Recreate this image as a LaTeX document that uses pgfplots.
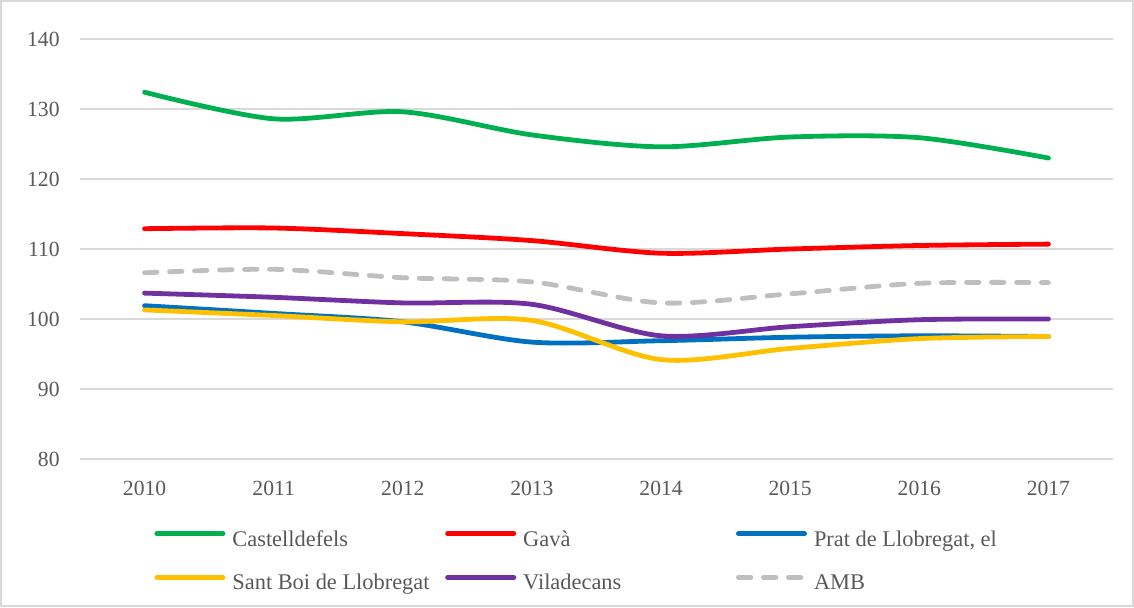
\documentclass[border=0pt]{standalone}
\usepackage{fontspec}
\setmainfont{Liberation Serif}
\usepackage{pgfplots}
\pgfplotsset{compat=1.18}
\definecolor{TxtColor}{HTML}{595959}
\definecolor{GridColor}{HTML}{D9D9D9}
\definecolor{cGreen}{HTML}{00B050}
\definecolor{cRed}{HTML}{FF0000}
\definecolor{cBlue}{HTML}{0070C0}
\definecolor{cYellow}{HTML}{FFC000}
\definecolor{cPurple}{HTML}{7030A0}
\definecolor{cGray}{HTML}{BFBFBF}

\begin{document}
\fontsize{10.5pt}{12pt}\selectfont
\begin{tikzpicture}
\useasboundingbox (-40pt,-74pt) rectangle (527pt,229.5pt);
\draw[GridColor,line width=0.75pt] (-39.6pt,-73.6pt) rectangle (526.6pt,229.1pt);
\begin{axis}[
  name=ax,
  at={(0,0)}, anchor=south west,
  scale only axis,
  width=516.5pt, height=210pt,
  xmin=-0.5, xmax=7.5,
  ymin=80, ymax=140,
  xtick={0,...,7},
  xticklabels={2010,2011,2012,2013,2014,2015,2016,2017},
  ytick={80,90,...,140},
  axis line style={draw=none},
  major tick length=0pt,
  ymajorgrids,
  grid style={draw=GridColor,line width=0.75pt},
  tick label style={font=\fontsize{10.8pt}{12pt}\selectfont,text=TxtColor},
  /pgf/number format/assume math mode=true,
  /pgf/number format/1000 sep={},
  yticklabel style={anchor=east,inner sep=0pt,xshift=-10pt},
  xticklabel style={anchor=north,inner sep=0pt,yshift=-11pt},
  every axis plot/.append style={line width=2.4pt,line cap=round,line join=round,smooth},
  legend columns=3,
  legend cell align=left,
  legend style={
    at={(0.0697,-0.172)}, anchor=north west,
    draw=none, fill=none, inner sep=0pt, outer sep=0pt,
    column sep=0pt, row sep=12.5pt,
    font=\fontsize{11.2pt}{12pt}\selectfont, text=TxtColor,
    nodes={inner sep=0pt, text height=7.4pt, text depth=2pt},
  },
  legend image code/.code={
    \draw[#1,line width=2.4pt,line cap=round] (1.2pt,3.5pt) -- (34.3pt,3.5pt);
    \path (0pt,3.5pt) (37.8pt,3.5pt);
  },
  clip=false,
]
\addplot[cGreen] coordinates {(0,132.4) (1,128.6) (2,129.6) (3,126.3) (4,124.6) (5,126.0) (6,125.9) (7,123.0)};
\addlegendentry{\makebox[105.2pt][l]{Castelldefels}}
\addplot[cRed] coordinates {(0,112.9) (1,113.0) (2,112.2) (3,111.2) (4,109.4) (5,110.0) (6,110.5) (7,110.7)};
\addlegendentry{\makebox[105.2pt][l]{Gavà}}
\addplot[cBlue] coordinates {(0,101.9) (1,100.8) (2,99.6) (3,96.7) (4,96.9) (5,97.4) (6,97.6) (7,97.5)};
\addlegendentry{Prat de Llobregat, el}
\addplot[cYellow] coordinates {(0,101.3) (1,100.5) (2,99.6) (3,99.8) (4,94.2) (5,95.8) (6,97.2) (7,97.5)};
\addlegendentry{\makebox[105.2pt][l]{Sant Boi de Llobregat}}
\addplot[cPurple] coordinates {(0,103.7) (1,103.1) (2,102.3) (3,102.1) (4,97.6) (5,98.9) (6,99.9) (7,100.0)};
\addlegendentry{\makebox[105.2pt][l]{Viladecans}}
\addplot[cGray,dash pattern=on 6.25pt off 6.25pt] coordinates {(0,106.6) (1,107.1) (2,105.9) (3,105.3) (4,102.3) (5,103.6) (6,105.1) (7,105.2)};
\addlegendentry{AMB}
\end{axis}
\end{tikzpicture}
\end{document}
